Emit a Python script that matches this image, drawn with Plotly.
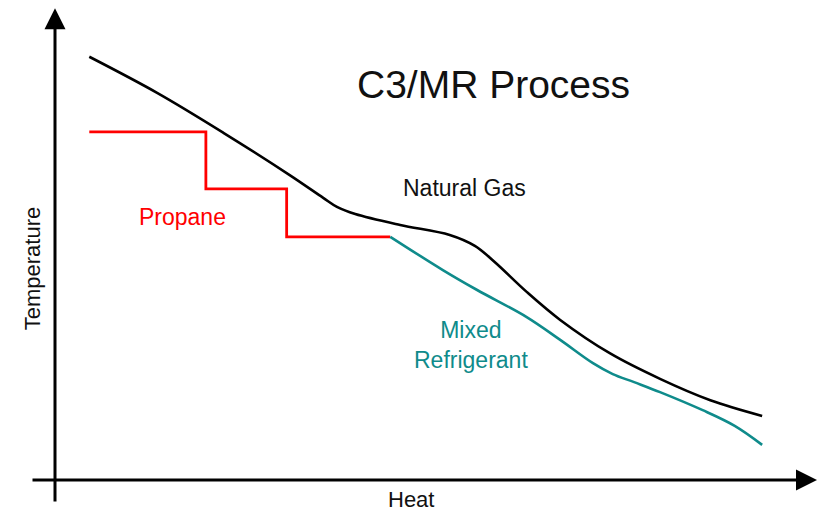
"""C3/MR process heat curve sketch."""

import plotly.graph_objects as go

# Natural gas cooling curve (heat, temperature), arbitrary units 0-100
gas_heat = [4.5, 13.4, 22.1, 30.8, 35.2, 37.0, 39.4, 45.3, 51.8, 55.1, 57.7, 61.9,
            66.3, 72.8, 79.4, 86.0, 92.8]
gas_temp = [89.1, 81.5, 73.1, 64.2, 59.4, 57.5, 56.0, 53.7, 51.6, 49.3, 45.9, 39.6,
            33.7, 26.7, 21.3, 16.8, 13.5]

# Propane pre-cooling: three pressure levels
propane_heat = [4.5, 19.8, 30.4, 44.0]
propane_temp = [73.3, 61.3, 51.2, 51.2]

# Mixed refrigerant curve
mr_heat = [44.0, 50.9, 55.4, 61.9, 66.3, 70.6, 73.2, 76.0, 79.4, 85.0, 89.2, 92.8]
mr_temp = [51.2, 44.2, 40.0, 34.3, 29.5, 24.6, 22.3, 20.6, 18.5, 14.7, 11.4, 7.4]

FONT = "Arial, Liberation Sans, sans-serif"
TEAL = "#0f8b8b"
DARK = "#111111"

fig = go.Figure()
fig.add_trace(go.Scatter(x=gas_heat, y=gas_temp, mode="lines",
                         line=dict(color="black", width=2.6, shape="spline", smoothing=1.0)))
fig.add_trace(go.Scatter(x=propane_heat, y=propane_temp, mode="lines",
                         line=dict(color="#ff0000", width=2.8, shape="hv")))
fig.add_trace(go.Scatter(x=mr_heat, y=mr_temp, mode="lines",
                         line=dict(color=TEAL, width=2.6, shape="spline", smoothing=1.0)))

# axes drawn as arrows
for x, y, ax, ay in [(0, 99.3, 0, -4.84), (100, 0, -3.15, 0)]:
    fig.add_annotation(x=x, y=y, ax=ax, ay=ay, xref="x", yref="y", axref="x", ayref="y",
                       showarrow=True, arrowhead=2, arrowsize=1.4, arrowwidth=3,
                       arrowcolor="black", text="")

labels = [
    ("C3/MR Process", 57.5, 83.2, 39, DARK, 0),
    ("Natural Gas", 53.8, 61.5, 23, DARK, 0),
    ("Propane", 16.7, 55.4, 23, "#ff0000", 0),
    ("Mixed<br>Refrigerant", 54.6, 28.4, 23, TEAL, 0),
    ("Temperature", -3.0, 44.6, 22, DARK, -90),
    ("Heat", 46.7, -4.2, 22, DARK, 0),
]
for text, x, y, size, color, angle in labels:
    fig.add_annotation(x=x, y=y, xref="x", yref="y", text=text, showarrow=False,
                       textangle=angle, font=dict(family=FONT, size=size, color=color))

# page body has an 8px margin, so the figure is 8px smaller and ranges start there
fig.update_layout(
    width=817,
    height=508,
    margin=dict(l=0, r=0, t=0, b=0),
    showlegend=False,
    plot_bgcolor="white",
    paper_bgcolor="white",
    xaxis=dict(visible=False, range=[-6.168, 101.05]),
    yaxis=dict(visible=False, range=[-7.579, 99.37]),
)

fig.write_html("out.html")
